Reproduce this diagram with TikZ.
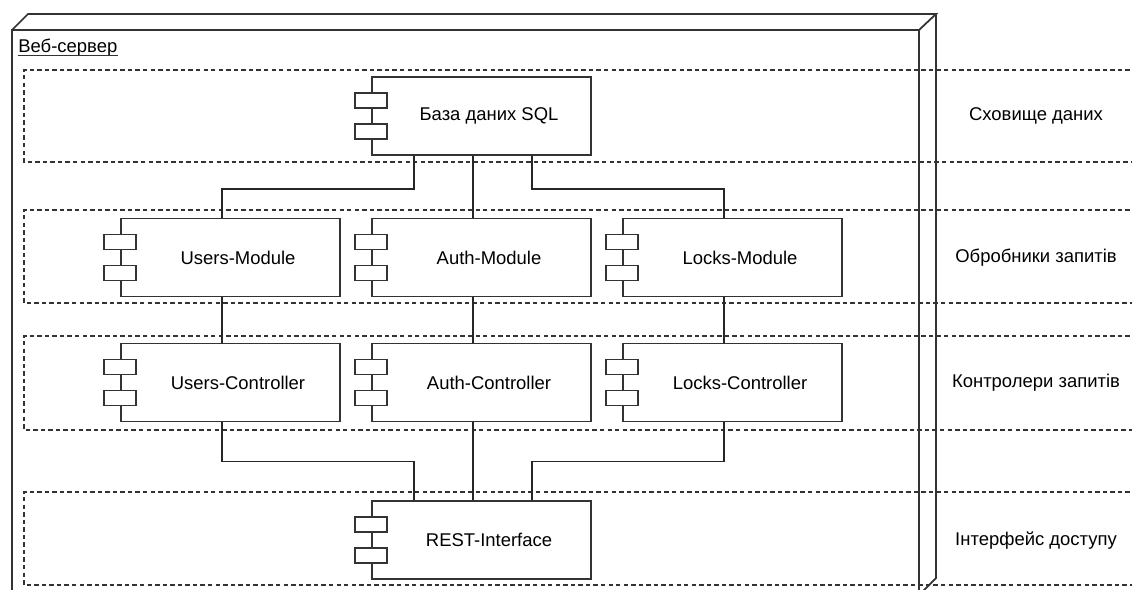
\documentclass[tikz,border=0pt]{standalone}
\usepackage{fontspec}
\setmainfont{Liberation Sans}
\usetikzlibrary{calc}

\begin{document}
\begin{tikzpicture}[
    every node/.style={font=\fontsize{10.5}{12.6}\selectfont, align=center},
    frame/.style={draw=black!80, line width=1pt, line join=miter},
    lane/.style={draw=black!80, line width=0.9pt, dash pattern=on 2.5pt off 1.8pt},
    comp/.style={rectangle, draw=black!80, fill=white, line width=1pt, minimum width=4.38cm, minimum height=1.56cm, inner sep=0pt, execute at begin node=\hspace*{3mm}},
    port/.style={rectangle, draw=black!80, fill=white, line width=1pt, minimum width=0.64cm, minimum height=0.30cm, inner sep=0pt},
    wire/.style={draw=black!85, line width=1pt},
    lanelabel/.style={anchor=center}
]
\useasboundingbox (0,0) rectangle (22.64,-11.78);
\clip (0,0) rectangle (22.64,-11.78);

% Node box (3D)
\draw[frame] (0.24,-0.60) rectangle (18.38,-11.90);
\draw[frame] (0.24,-0.60) -- (0.56,-0.28) -- (18.72,-0.28) -- (18.38,-0.60);
\draw[frame] (18.72,-0.28) -- (18.72,-11.56) -- (18.38,-11.90);
\node[anchor=west, inner sep=0pt] (srv) at (0.36,-0.96) {Веб-сервер};
\draw[black!80, line width=0.6pt] ([yshift=-1.4pt]srv.base west) -- ([yshift=-1.4pt]srv.base east);

% Layers
\draw[lane] (23.2,-1.40) -- (0.48,-1.40) -- (0.48,-3.24) -- (23.2,-3.24);
\draw[lane] (23.2,-4.20) -- (0.48,-4.20) -- (0.48,-6.06) -- (23.2,-6.06);
\draw[lane] (23.2,-6.72) -- (0.48,-6.72) -- (0.48,-8.60) -- (23.2,-8.60);
\draw[lane] (23.2,-9.84) -- (0.48,-9.84) -- (0.48,-11.70) -- (23.2,-11.70);

\node[lanelabel] (l1) at (20.72,-2.32) {Сховище даних};
\node[lanelabel] (l2) at (20.72,-5.16) {Обробники запитів};
\node[lanelabel] (l3) at (20.72,-7.66) {Контролери запитів};
\node[lanelabel] (l4) at (20.72,-10.82) {Інтерфейс доступу};

% Components
\node[comp] (db) at (9.63,-2.32) {База даних SQL};

\node[comp] (um) at (4.61,-5.15) {Users-Module};
\node[comp] (am) at (9.63,-5.15) {Auth-Module};
\node[comp] (lm) at (14.65,-5.15) {Locks-Module};

\node[comp] (uc) at (4.61,-7.65) {Users-Controller};
\node[comp] (ac) at (9.63,-7.65) {Auth-Controller};
\node[comp] (lc) at (14.65,-7.65) {Locks-Controller};

\node[comp] (rest) at (9.63,-10.80) {REST-Interface};

% Component ports
\foreach \n in {db, um, am, lm, uc, ac, lc, rest} {
  \node[port] at ($(\n.west)+(0,0.31)$) {};
  \node[port] at ($(\n.west)+(0,-0.31)$) {};
}

% Connections
\draw[wire] ([xshift=-1.35cm]db.south) -- ++(0,-0.66) -| ([xshift=-0.17cm]um.north);
\draw[wire] ([xshift=-0.17cm]db.south) -- ([xshift=-0.17cm]am.north);
\draw[wire] ([xshift=1.01cm]db.south) -- ++(0,-0.66) -| ([xshift=-0.17cm]lm.north);

\foreach \m/\c in {um/uc, am/ac, lm/lc}
  \draw[wire] ([xshift=-0.17cm]\m.south) -- ([xshift=-0.17cm]\c.north);

\draw[wire] ([xshift=-0.17cm]uc.south) -- ++(0,-0.78) -| ([xshift=-1.35cm]rest.north);
\draw[wire] ([xshift=-0.17cm]ac.south) -- ([xshift=-0.17cm]rest.north);
\draw[wire] ([xshift=-0.17cm]lc.south) -- ++(0,-0.78) -| ([xshift=1.01cm]rest.north);
\end{tikzpicture}
\end{document}
